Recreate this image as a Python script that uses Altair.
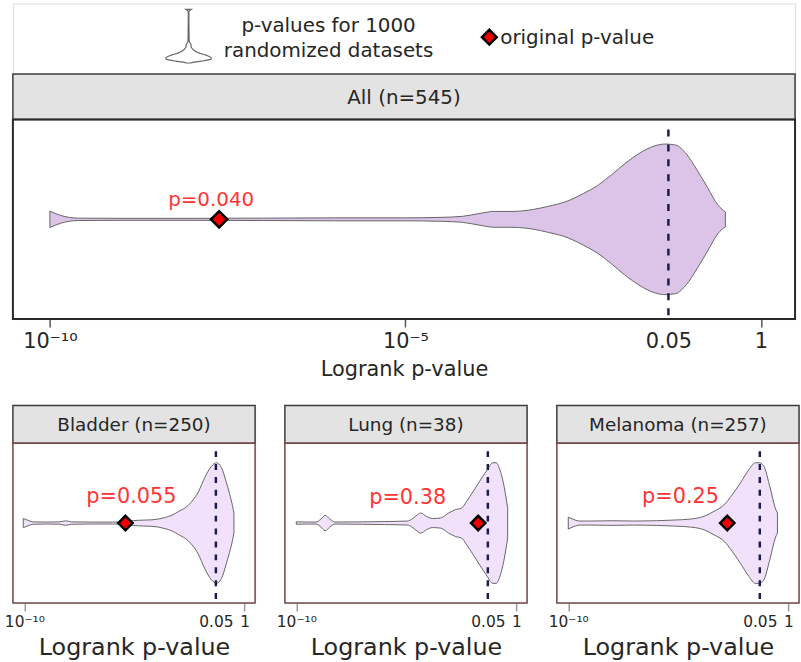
import math
import altair as alt
import pandas as pd

FONT = "DejaVu Sans"
TEXT_COLOR = "#262626"

# ---------------- data ----------------
panel_titles = ["All (n=545)", "Bladder (n=250)", "Lung (n=38)", "Melanoma (n=257)"]
# log10 of the logrank p-value obtained on each original dataset
original_log10_p = [-7.62, -5.41, -1.74, -2.78]
# permutation p-value: share of randomized datasets that beat the original
permutation_p = ["p=0.040", "p=0.055", "p=0.38", "p=0.25"]

# violin outlines of 1000 randomized logrank p-values: log10(p) and relative density
all_log10_p = [-10.0, -9.85, -9.6, -9.0, -8.0, -7.0, -6.0, -5.0, -4.5, -4.2, -3.95,
               -3.75, -3.5, -3.2, -3.0, -2.7, -2.5, -2.3, -2.1, -1.9, -1.7, -1.5,
               -1.35, -1.2, -1.05, -0.9, -0.75, -0.6, -0.5]
all_density = [8.3, 4.0, 1.2, 1.0, 1.0, 1.2, 1.5, 1.5, 2.0, 3.0, 6.0,
               8.0, 8.0, 10.0, 13.0, 19.0, 26.0, 34.0, 45.0, 57.0, 67.0, 74.0,
               76.0, 75.0, 66.0, 50.0, 32.0, 14.0, 7.5]

bladder_log10_p = [-10.05, -9.8, -9.6, -9.0, -8.4, -8.12, -7.85, -7.0, -6.0, -5.4,
                   -5.04, -4.6, -4.21, -3.6, -3.3, -3.0, -2.56, -2.1, -1.8, -1.5,
                   -1.28, -1.05, -0.83, -0.68, -0.55, -0.48]
bladder_density = [4.7, 2.5, 1.2, 1.0, 1.2, 2.3, 1.2, 1.0, 1.0, 1.5,
                   2.5, 3.0, 3.3, 5.7, 8.0, 11.7, 18.0, 31.7, 46.7, 58.0,
                   61.5, 56.7, 41.7, 30.0, 18.0, 10.0]

lung_log10_p = [-10.0, -9.5, -9.11, -8.88, -8.69, -8.48, -8.24, -7.0, -6.0, -4.94,
                -4.75, -4.57, -4.35, -4.08, -3.82, -3.45, -3.08, -2.78, -2.49, -2.26,
                -1.96, -1.67, -1.37, -1.07, -0.92, -0.77, -0.55, -0.45, -0.4]
lung_density = [1.2, 1.0, 1.0, 4.0, 7.7, 4.0, 1.0, 1.2, 1.5, 2.0,
                4.0, 7.0, 10.0, 6.5, 4.5, 5.0, 10.0, 13.3, 15.0, 21.7,
                31.7, 41.7, 51.7, 60.0, 60.0, 54.0, 35.0, 22.0, 15.0]

melanoma_log10_p = [-10.0, -9.75, -9.47, -9.0, -8.0, -7.0, -6.0, -5.19, -4.44, -3.83,
                    -3.38, -2.93, -2.56, -2.18, -1.8, -1.5, -1.32, -1.13, -0.83, -0.6, -0.5]
melanoma_density = [6.0, 3.5, 2.0, 2.0, 2.3, 2.0, 2.3, 3.0, 4.0, 6.7,
                    11.7, 18.0, 28.0, 40.0, 53.0, 60.0, 60.0, 57.0, 35.0, 15.0, 10.0]

violins = [
    (all_log10_p, all_density),
    (bladder_log10_p, bladder_density),
    (lung_log10_p, lung_density),
    (melanoma_log10_p, melanoma_density),
]

LOG_05 = math.log10(0.05)
tick_values_top = [-10, -5, LOG_05, 0]
tick_values_bottom = [-10, LOG_05, 0]
tick_text = ["10⁻¹⁰", "10⁻⁵", "0.05", "1"]

X_DOMAIN = [-10.52, 0.48]
VIOLIN_SCALE = 0.755  # widest point of a violin as a share of the half panel height

LABEL_EXPR = (f"datum.value < -9 ? '{tick_text[0]}' : datum.value < -4 ? '{tick_text[1]}' : "
              f"datum.value < -1 ? '{tick_text[2]}' : '{tick_text[3]}'")

deco = pd.DataFrame({"k": [0]})


def key_layers():
    """Key drawn above the first panel: violin glyph, two-line caption, diamond."""
    key_df = pd.DataFrame({"lp": all_log10_p, "dens": all_density})
    glyph = (
        alt.Chart(key_df)
        .transform_joinaggregate(dmax="max(dens)")
        .transform_calculate(hi="datum.dens / datum.dmax", lo="-datum.dens / datum.dmax")
        .mark_area(orient="horizontal", fill="white", stroke="#666666", strokeWidth=1.2,
                   interpolate="monotone")
        .encode(
            y=alt.Y("lp:Q", scale=alt.Scale(domain=[-10.0, -0.5], range=[6, 60], nice=False,
                                            zero=False), axis=None),
            x=alt.X("lo:Q", scale=alt.Scale(domain=[-1, 1], range=[154, 200], nice=False,
                                            zero=False), axis=None),
            x2="hi:Q",
        )
    )

    def caption(text, x, y, align):
        return alt.Chart(deco).mark_text(text=text, font=FONT, fontSize=20, color=TEXT_COLOR,
                                         align=align, baseline="alphabetic").encode(
            x=alt.value(x), y=alt.value(y))

    mark = alt.Chart(deco).mark_point(shape="diamond", filled=True, fill="#f00000",
                                      stroke="#000000", strokeWidth=2.5, opacity=1,
                                      size=220).encode(x=alt.value(480), y=alt.value(34))
    return [glyph,
            caption("p-values for 1000", 318, 29, "center"),
            caption("randomized datasets", 318, 54, "center"),
            mark,
            caption("original p-value", 491, 41, "left")]


def panel(idx, width, header_h, plot_h, ticks, fill, frame_color, frame_w,
          header_fs, tick_fs, title_fs, label_fs, label_dx, label_dy,
          diamond_size, dash, tick_color, label_pad, title_pad, top_offset=0, extra=None):
    lp, dens = violins[idx]
    y0 = top_offset + header_h
    total_h = y0 + plot_h
    xs = alt.Scale(domain=X_DOMAIN, nice=False, zero=False)
    ys = alt.Scale(domain=[-1, 1], range=[total_h, y0], nice=False, zero=False)

    axis = alt.Axis(
        values=ticks, labelExpr=LABEL_EXPR, title="Logrank p-value", grid=False,
        domain=False, tickSize=8, tickWidth=1.5, tickColor=tick_color,
        tickOpacity={"condition": {"test": "datum.value < -1 && datum.value > -2", "value": 0},
                     "value": 1},
        labelFont=FONT, labelFontSize=tick_fs, labelColor=TEXT_COLOR, labelPadding=label_pad,
        labelOverlap=False, labelFlush=False,
        titleFont=FONT, titleFontSize=title_fs, titleFontWeight="normal",
        titleColor=TEXT_COLOR, titlePadding=title_pad,
    )

    vdf = pd.DataFrame({"lp": lp, "dens": dens})
    point = pd.DataFrame({"lp": [original_log10_p[idx]], "label": [permutation_p[idx]]})
    cut = pd.DataFrame({"lp": [LOG_05]})

    header_box = alt.Chart(deco).mark_rect(fill="#e3e3e3", stroke="#3c3c3c", strokeWidth=1.5).encode(
        x=alt.value(0), x2=alt.value(width), y=alt.value(top_offset), y2=alt.value(y0))

    violin = (
        alt.Chart(vdf)
        .transform_joinaggregate(dmax="max(dens)")
        .transform_calculate(hi=f"datum.dens / datum.dmax * {VIOLIN_SCALE}",
                             lo=f"-datum.dens / datum.dmax * {VIOLIN_SCALE}")
        .mark_area(fill=fill, stroke="#666666", strokeWidth=1, interpolate="monotone")
        .encode(x=alt.X("lp:Q", scale=xs, axis=axis),
                y=alt.Y("lo:Q", scale=ys, axis=None), y2="hi:Q")
    )

    cutoff = alt.Chart(cut).mark_rule(color="#1c1c4c", strokeWidth=2.5, strokeDash=dash).encode(
        x=alt.X("lp:Q", scale=xs, axis=None),
        y=alt.Y(datum=0.9, scale=ys, axis=None), y2=alt.Y2(datum=-1))

    diamond = alt.Chart(point).mark_point(
        shape="diamond", filled=True, fill="#f00000", stroke="#000000", strokeWidth=2.5,
        opacity=1, size=diamond_size).encode(
        x=alt.X("lp:Q", scale=xs, axis=None), y=alt.Y(datum=0, scale=ys, axis=None))

    label = alt.Chart(point).mark_text(
        font=FONT, fontSize=label_fs, color="#ff3535", dx=label_dx, dy=label_dy,
        baseline="alphabetic", align="center").encode(
        x=alt.X("lp:Q", scale=xs, axis=None), y=alt.Y(datum=0, scale=ys, axis=None),
        text="label:N")

    frame = alt.Chart(deco).mark_rect(fill="transparent", fillOpacity=0, stroke=frame_color,
                                      strokeWidth=frame_w).encode(
        x=alt.value(0), x2=alt.value(width), y=alt.value(y0), y2=alt.value(total_h))

    header_text = alt.Chart(deco).mark_text(
        text=panel_titles[idx], font=FONT, fontSize=header_fs, color=TEXT_COLOR,
        baseline="middle", align="center").encode(
        x=alt.value(width / 2), y=alt.value(top_offset + header_h / 2 + 1))

    layers = [header_box, violin, cutoff, diamond, label, frame, header_text] + (extra or [])
    # every layer carries the same explicit scales; independent resolution keeps the
    # single axis defined on the violin layer
    return (alt.layer(*layers)
            .resolve_scale(x="independent", y="independent")
            .properties(width=width, height=total_h))


# ---------------- panels ----------------
top = panel(0, 788, 46, 201, tick_values_top, "#dcc4e9", "#2a2a2a", 2,
            header_fs=20, tick_fs=21, title_fs=21, label_fs=20, label_dx=-8, label_dy=-13,
            diamond_size=272, dash=[7, 8], tick_color="#555555", label_pad=4, title_pad=7,
            top_offset=71, extra=key_layers())

bottom_cfg = dict(width=244, header_h=38, plot_h=161, ticks=tick_values_bottom, fill="#f2e1fa",
                  frame_color="#7a4848", frame_w=1.5, header_fs=18.5, tick_fs=15.5, title_fs=24,
                  label_fs=21, diamond_size=210, dash=[6, 7], tick_color="#999999",
                  label_pad=4, title_pad=5)
bladder = panel(1, label_dx=6, label_dy=-20, **bottom_cfg)
lung = panel(2, label_dx=-71, label_dy=-19, **bottom_cfg)
melanoma = panel(3, label_dx=-47, label_dy=-20, **bottom_cfg)

bottom_row = alt.hconcat(bladder, lung, melanoma, spacing=30, bounds="flush")

chart = (
    alt.vconcat(top, bottom_row, spacing=87, bounds="flush")
    .properties(padding={"left": 3, "top": 0, "right": 0, "bottom": 0})
    .configure_view(strokeWidth=0)
    .configure(font=FONT)
)

chart.save("out.html", embed_options={"renderer": "svg", "actions": False})
